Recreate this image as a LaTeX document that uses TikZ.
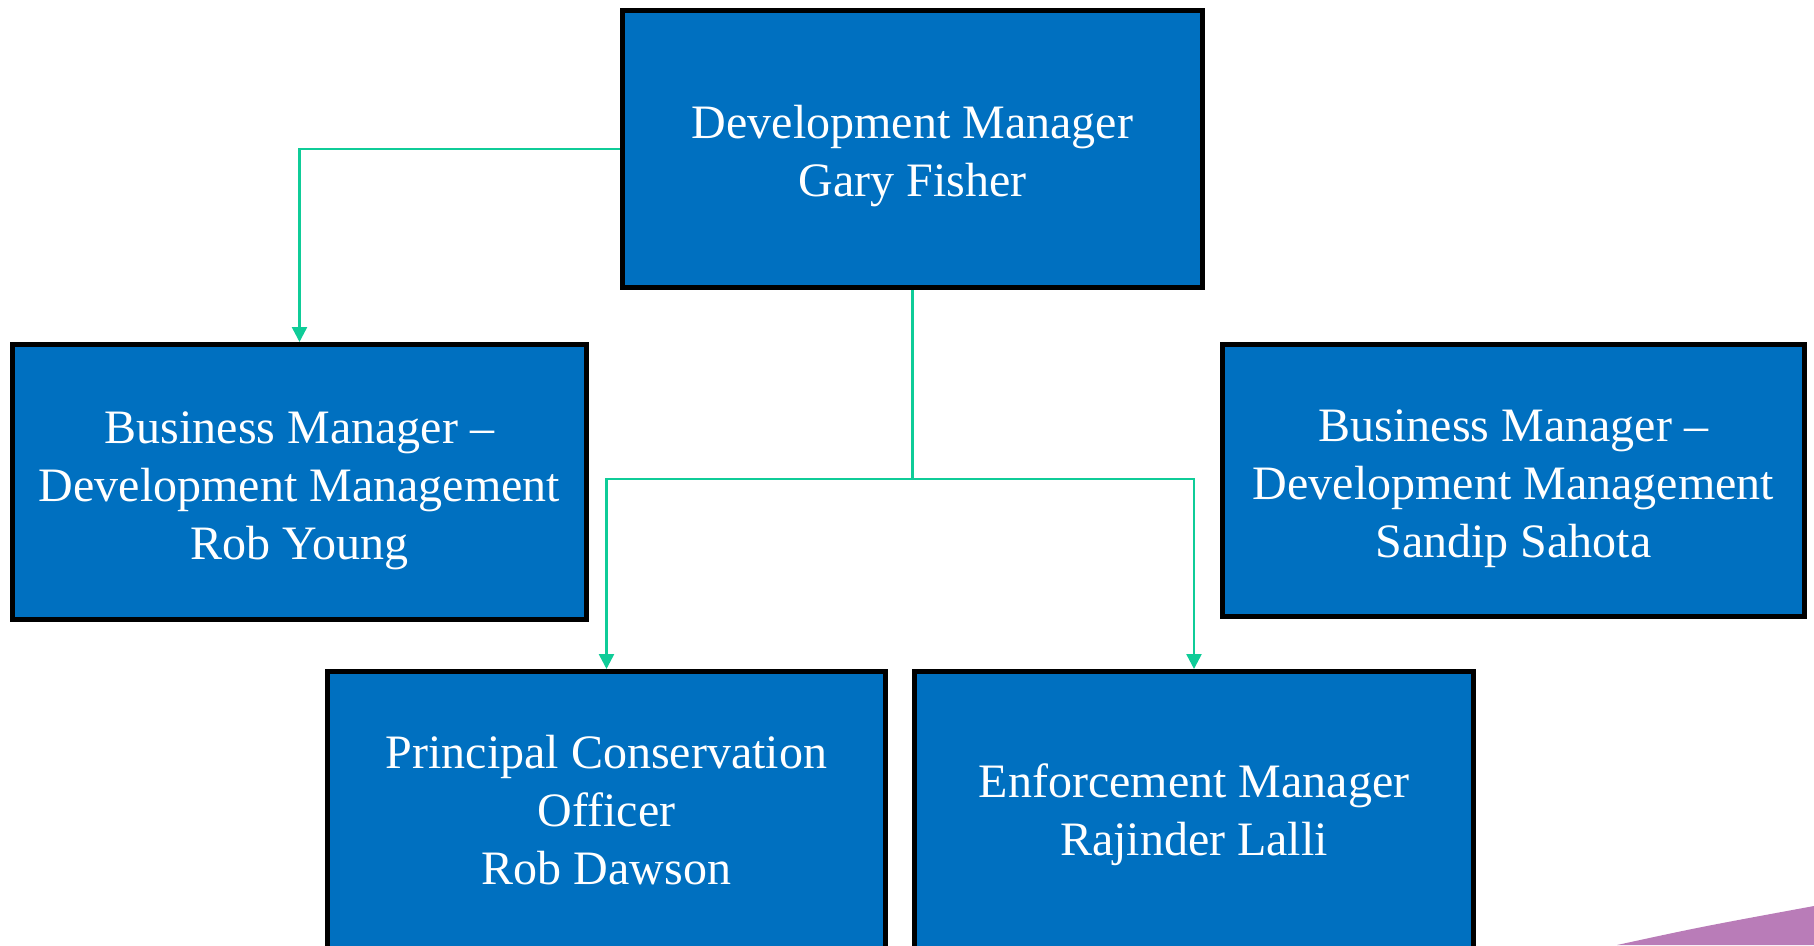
\documentclass[tikz,border=0pt]{standalone}
\usepackage{fontspec}
\setmainfont{Liberation Serif}
\usepackage{xcolor}
\usepackage{tikz}
\usetikzlibrary{arrows.meta}
\definecolor{boxblue}{HTML}{0070C0}
\definecolor{linkgreen}{HTML}{0FCC98}
\definecolor{swoosh}{HTML}{B97CB8}
\newcommand{\pushdown}[1]{\rule{0pt}{#1}}
\tikzset{
  post/.style={draw=black, fill=boxblue, line width=5pt, text=white,
    align=center, inner sep=0pt,
    font=\fontsize{48}{58}\selectfont},
  link/.style={draw=linkgreen, line width=2.5pt,
    -{Triangle[length=15pt,width=15pt]}},
  plain/.style={draw=linkgreen, line width=2.5pt},
}

\begin{document}
\begin{tikzpicture}[x=1pt,y=-1pt]
  \useasboundingbox (0,0) rectangle (1814,945);

  % posts
  \node[post, minimum width=580pt, minimum height=277pt] (devmgr) at (912.5,149) {\pushdown{47pt}Development Manager\\Gary Fisher};
  \node[post, minimum width=574pt, minimum height=275pt] (bmyoung) at (299.5,482) {\pushdown{49pt}Business Manager --\\Development Management\\Rob Young};
  \node[post, minimum width=582pt, minimum height=272pt] (bmsahota) at (1513.5,480.5) {\pushdown{49pt}Business Manager --\\Development Management\\Sandip Sahota};
  \node[post, minimum width=558pt, minimum height=277pt] (conserv) at (606.5,810) {Principal Conservation\\Officer\\Rob Dawson};
  \node[post, minimum width=559pt, minimum height=277pt] (enforce) at (1194,810) {\pushdown{43pt}Enforcement Manager\\Rajinder Lalli};

  % reporting lines
  \coordinate (split) at (912.5,479);
  \draw[link] (devmgr.west) -| (bmyoung.north);
  \draw[plain] (devmgr.south) -- (split);
  \draw[link] (split) -| (conserv.north);
  \draw[link] (split) -| (enforce.north);

  % corner swoosh
  \fill[swoosh] (1617,945) .. controls (1700,927) .. (1814,906) -- (1814,945) -- cycle;
\end{tikzpicture}
\end{document}
